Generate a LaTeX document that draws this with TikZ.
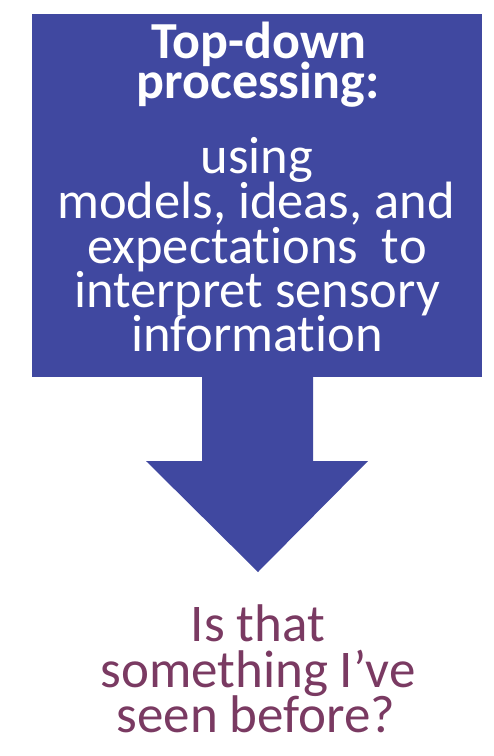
\documentclass[tikz,border=0pt]{standalone}
\usepackage{fontspec}
\setmainfont{Carlito}[RawFeature=-liga]
\definecolor{boxblue}{RGB}{64,72,160}
\definecolor{qpurple}{RGB}{122,58,98}
\begin{document}
\begin{tikzpicture}[x=1pt,y=-1pt,
  titletxt/.style={anchor=base,inner sep=0pt,text=white,font=\fontsize{52}{52}\selectfont\bfseries},
  bodytxt/.style={anchor=base,inner sep=0pt,text=white,font=\fontsize{52.5}{52}\selectfont},
  qtxt/.style={anchor=base,inner sep=0pt,text=qpurple,font=\fontsize{53}{53}\selectfont},
  boxshape/.style={fill=boxblue,draw=none,inner sep=0pt,minimum width=450pt,minimum height=363pt}]
\fill[white] (0,0) rectangle (494,756);
\useasboundingbox (0,0) rectangle (494,756);
\node[boxshape] (box) at (257,195.5) {};
\coordinate (tip) at (258,572);
\fill[boxblue] (box.south -| 202,0) -- (202,461) -- (146,461) -- (tip) -- (368,461) -- (313,461) -- (box.south -| 313,0) -- cycle;
\node[titletxt] (t1) at (259,58) {Top-down};
\node[titletxt] (t2) at (258,98) {processing:};
\node[bodytxt] (b1) at (257,173) {using};
\node[bodytxt] (b2) at (256,218) {models, ideas, and};
\node[bodytxt] (b3) at (257,263) {expectations\ \ to};
\node[bodytxt] (b4) at (257,307) {interpret sensory};
\node[bodytxt] (b5) at (257,351) {information};
\node[qtxt] (q1) at (258,641) {Is that};
\node[qtxt] (q2) at (258,687) {something I’ve};
\node[qtxt] (q3) at (256,732) {seen before?};
\end{tikzpicture}
\end{document}
